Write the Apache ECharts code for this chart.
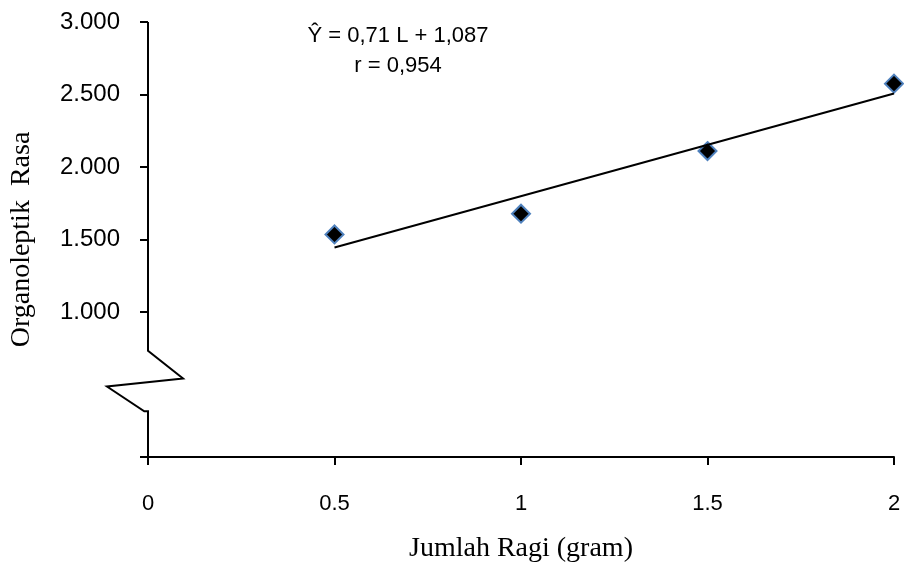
<!DOCTYPE html>
<html>
<head>
<meta charset="utf-8">
<script src="https://cdn.jsdelivr.net/npm/echarts@6/dist/echarts.min.js"></script>
<style>
  html, body { margin: 0; padding: 0; background: #fff; }
  #chart { width: 904px; height: 568px; }
</style>
</head>
<body>
<div id="chart"></div>
<script>
// data
var ragi = [0.5, 1, 1.5, 2];
var rasa = [1.535, 1.678, 2.11, 2.575];
var fitX = [0.5, 2];
var fitY = [1.445, 2.507];
var yLabelValues = [1, 1.5, 2, 2.5, 3];
var yTickValues = [0, 1, 1.5, 2, 2.5, 3];
// y axis drawn by hand so it can carry the break (data units)
var axisBreak = [[0, 3], [0, 0.733], [0.094, 0.541], [-0.11, 0.486], [-0.01, 0.315], [0, 0.315], [0, 0]];

var chart = echarts.init(document.getElementById('chart'));

var points = ragi.map(function(v, i) { return [v, rasa[i]]; });
var fit = fitX.map(function(v, i) { return [v, fitY[i]]; });

var option = {
    animation: false,
    backgroundColor: '#fff',
    grid: { left: 146, right: 10, top: 22, bottom: 109 },
    xAxis: {
        type: 'value',
        min: 0, max: 2, interval: 0.5,
        splitLine: { show: false },
        axisLine: { show: true, lineStyle: { color: '#000', width: 2 } },
        axisTick: { show: true, length: 8, lineStyle: { color: '#000', width: 2 } },
        axisLabel: { margin: 36, color: '#000', fontSize: 22, fontFamily: 'Liberation Sans' },
        name: 'Jumlah Ragi (gram)',
        nameLocation: 'middle',
        nameGap: 78,
        nameTextStyle: { color: '#000', fontSize: 28, fontFamily: 'Liberation Serif' }
    },
    yAxis: {
        type: 'value',
        min: 0, max: 3,
        splitLine: { show: false },
        axisLine: { show: false },
        axisTick: { show: true, length: 8, customValues: yTickValues, lineStyle: { color: '#000', width: 2 } },
        axisLabel: {
            margin: 28, color: '#000', fontSize: 24, fontFamily: 'Liberation Sans',
            customValues: yLabelValues,
            formatter: function(v) { return v.toFixed(3); }
        },
        name: 'Organoleptik  Rasa',
        nameLocation: 'middle',
        nameGap: 112,
        nameTextStyle: { color: '#000', fontSize: 28, fontFamily: 'Liberation Serif' }
    },
    series: [
        {
            type: 'line',
            data: fit,
            symbol: 'none',
            silent: true,
            lineStyle: { color: '#000', width: 2 }
        },
        {
            type: 'scatter',
            data: points,
            symbol: 'diamond',
            symbolSize: 18,
            itemStyle: { color: '#000', opacity: 1, borderColor: '#4f81bd', borderWidth: 2 }
        }
    ]
};
chart.setOption(option);

// broken y axis line and the two text lines of the equation
var breakPts = axisBreak.map(function(p) {
    return chart.convertToPixel({ gridIndex: 0 }, p);
});
chart.setOption({
    graphic: [
        {
            type: 'polyline',
            shape: { points: breakPts },
            style: { stroke: '#000', lineWidth: 2, fill: null },
            silent: true
        },
        {
            type: 'text', x: 398, y: 36,
            style: { text: 'Ŷ = 0,71 L + 1,087', align: 'center', verticalAlign: 'middle',
                     fill: '#000', font: '22px "Liberation Sans"' }
        },
        {
            type: 'text', x: 398, y: 66,
            style: { text: 'r = 0,954', align: 'center', verticalAlign: 'middle',
                     fill: '#000', font: '22px "Liberation Sans"' }
        }
    ]
});
</script>
</body>
</html>
